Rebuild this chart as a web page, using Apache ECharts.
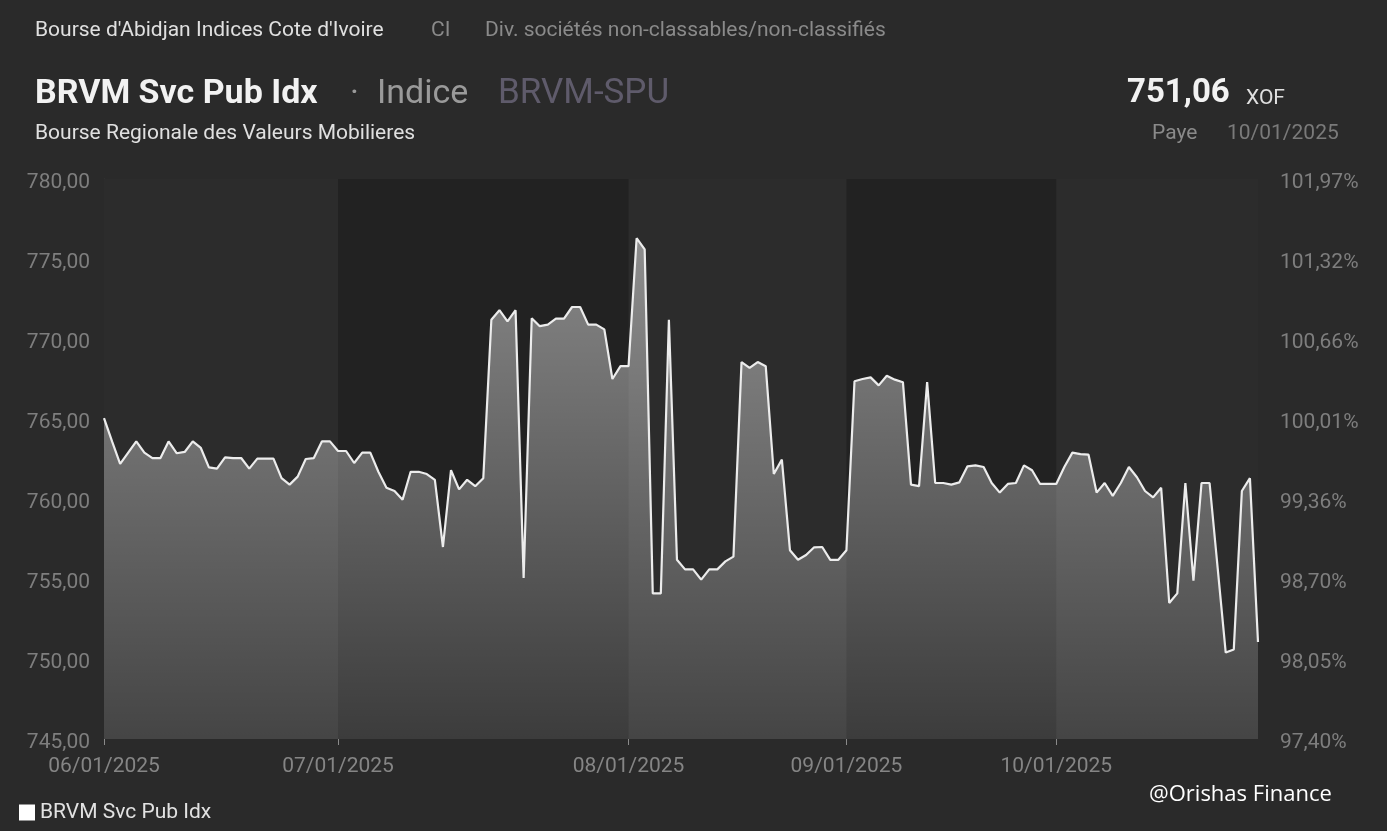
<!DOCTYPE html>
<html>
<head>
<meta charset="utf-8">
<script src="https://cdn.jsdelivr.net/npm/echarts@6/dist/echarts.min.js"></script>
<style>
html,body{margin:0;padding:0;background:#2a2a2a;}
#chart{width:1387px;height:831px;}
</style>
</head>
<body>
<div id="chart"></div>
<script>
// ---- data ----
const values = [
  765.06, 763.6, 762.2, 762.9, 763.6, 762.9, 762.56, 762.56, 763.6, 762.86,
  762.94, 763.6, 763.19, 761.98, 761.9, 762.6, 762.56, 762.56, 761.9, 762.52,
  762.52, 762.52, 761.3, 760.9, 761.4, 762.5, 762.56, 763.6, 763.6, 763.0,
  763.0, 762.25, 762.9, 762.9, 761.7, 760.7, 760.5, 759.96, 761.7, 761.7,
  761.56, 761.2, 757.0, 761.8, 760.6, 761.2, 760.8, 761.3, 771.2, 771.8,
  771.1, 771.8, 755.06, 771.3, 770.8, 770.9, 771.27, 771.27, 772.0, 772.0,
  770.9, 770.9, 770.6, 767.5, 768.3, 768.3, 776.3, 775.6, 754.1, 754.1,
  771.2, 756.2, 755.6, 755.6, 754.96, 755.6, 755.6, 756.1, 756.4, 768.56,
  768.2, 768.56, 768.3, 761.56, 762.46, 756.8, 756.2, 756.5, 756.98, 757.0,
  756.2, 756.2, 756.8, 767.36, 767.5, 767.6, 767.1, 767.7, 767.46, 767.3,
  760.9, 760.8, 767.3, 761.0, 761.0, 760.9, 761.04, 762.04, 762.1, 762.0,
  761.0, 760.4, 760.94, 761.0, 762.1, 761.8, 760.94, 760.94, 760.94, 762.0,
  762.9, 762.8, 762.77, 760.4, 761.0, 760.2, 761.0, 762.0, 761.36, 760.5,
  760.1, 760.7, 753.5, 754.1, 761.0, 754.9, 761.0, 761.0, 755.7, 750.4,
  750.6, 760.5, 761.3, 751.06
];
const monthStartIdx = [0, 29, 65, 92, 118];
const monthLabels = ["06/01/2025", "07/01/2025", "08/01/2025", "09/01/2025", "10/01/2025"];
const leftTicks = [745, 750, 755, 760, 765, 770, 775, 780];
const rightTickLabels = ["97,40%", "98,05%", "98,70%", "99,36%", "100,01%", "100,66%", "101,32%", "101,97%"];
const seriesName = "BRVM Svc Pub Idx";

// ---- build ----
const categories = values.map((v, i) => String(i));
const lastIdx = values.length - 1;
const bandPairs = [];
for (let k = 0; k < monthStartIdx.length; k += 2) {
  const s = monthStartIdx[k];
  const e = k + 1 < monthStartIdx.length ? monthStartIdx[k + 1] : lastIdx;
  bandPairs.push([{ xAxis: String(s) }, { xAxis: String(e) }]);
}

const chart = echarts.init(document.getElementById('chart'));
const font = 'Roboto';
function txt(x, y, text, fill, fnt) {
  return { type: 'text', x: x, y: y, style: { text: text, fill: fill, font: fnt, verticalAlign: 'middle', align: 'left' } };
}
const option = {
  backgroundColor: '#2a2a2a',
  animation: false,
  textStyle: { fontFamily: font },
  grid: { left: 104, right: 129, top: 179, bottom: 92, show: true, backgroundColor: '#222222', borderWidth: 0 },
  legend: {
    left: 14, top: 797, itemWidth: 16, itemHeight: 16, itemGap: 6,
    icon: 'rect',
    textStyle: { color: '#e2e2e2', fontSize: 21, fontFamily: font, padding: [0, 0, 0, 0] },
    data: [{ name: seriesName, itemStyle: { color: '#ffffff' } }]
  },
  xAxis: {
    type: 'category', data: categories, boundaryGap: false,
    axisLine: { show: false },
    axisTick: { show: true, length: 6, lineStyle: { color: '#8a8a8a' },
      interval: (i) => monthStartIdx.includes(i) },
    axisLabel: { show: true, margin: 17, color: '#858585', fontSize: 21, fontFamily: font,
      interval: (i) => monthStartIdx.includes(i),
      formatter: (v, i) => { const k = monthStartIdx.indexOf(i); return k >= 0 ? monthLabels[k] : ''; } },
    splitLine: { show: false }
  },
  yAxis: [
    { type: 'value', min: leftTicks[0], max: leftTicks[leftTicks.length - 1], interval: 5, position: 'left',
      axisLine: { show: true, lineStyle: { color: '#3a3a3a' } }, axisTick: { show: false },
      splitLine: { show: false },
      axisLabel: { margin: 14, color: '#7e7e7e', fontSize: 21, fontFamily: font, verticalAlign: 'top', lineHeight: 8,
        formatter: (v) => v.toFixed(2).replace('.', ',') } },
    { type: 'value', min: leftTicks[0], max: leftTicks[leftTicks.length - 1], interval: 5, position: 'right',
      axisLine: { show: false }, axisTick: { show: false }, splitLine: { show: false },
      axisLabel: { margin: 22, color: '#7e7e7e', fontSize: 21, fontFamily: font, verticalAlign: 'top', lineHeight: 8,
        formatter: (v) => { const k = leftTicks.indexOf(Math.round(v)); return k >= 0 ? rightTickLabels[k] : ''; } } }
  ],
  series: [
    { name: 'bands', type: 'line', data: values, z: 1, symbol: 'none', silent: true,
      lineStyle: { opacity: 0 }, legendHoverLink: false,
      markArea: { silent: true, itemStyle: { color: '#2c2c2c' }, data: bandPairs } },
    { name: seriesName, type: 'line', data: values, z: 3, symbol: 'none',
      itemStyle: { color: '#ffffff' },
      lineStyle: { color: '#ececec', width: 2.2 },
      areaStyle: { color: new echarts.graphic.LinearGradient(0, 0, 0, 1, [
        { offset: 0, color: 'rgba(255,255,255,0.66)' },
        { offset: 1, color: 'rgba(255,255,255,0.17)' }]) } }
  ],
  graphic: [
    txt(35, 31, "Bourse d'Abidjan Indices Cote d'Ivoire", '#e0e0e0', '21px Roboto'),
    txt(431, 31, 'CI', '#8a8a8a', '21px Roboto'),
    txt(485, 31, 'Div. sociétés non-classables/non-classifiés', '#8a8a8a', '21px Roboto'),
    txt(35, 94, 'BRVM Svc Pub Idx', '#f2f2f2', 'bold 34px Roboto'),
    txt(350, 94, '·', '#9a9a9a', '34px Roboto'),
    txt(377, 94, 'Indice', '#9a9a9a', '34px Roboto'),
    txt(498, 94, 'BRVM-SPU', '#5f5b6b', '35px Roboto'),
    txt(35, 134, 'Bourse Regionale des Valeurs Mobilieres', '#e0e0e0', '21px Roboto'),
    txt(1127, 94, '751,06', '#f2f2f2', 'bold 33px Roboto'),
    txt(1246, 99, 'XOF', '#e0e0e0', '21px Roboto'),
    txt(1152, 134, 'Paye', '#8a8a8a', '21px Roboto'),
    txt(1227, 134, '10/01/2025', '#7a7a7a', '21px Roboto'),
    txt(1149, 795, '@Orishas Finance', '#ffffff', '22px "Open Sans"')
  ]
};
chart.setOption(option);
</script>
</body>
</html>
